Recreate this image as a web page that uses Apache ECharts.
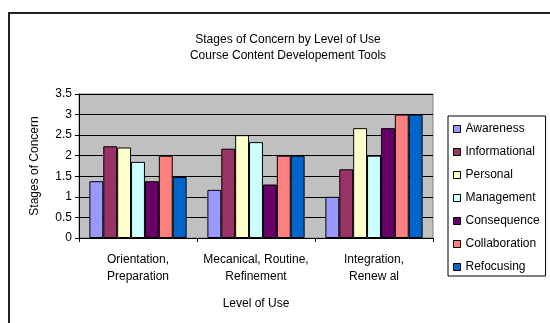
<!DOCTYPE html>
<html>
<head>
<meta charset="utf-8">
<script src="https://cdn.jsdelivr.net/npm/echarts@6/dist/echarts.min.js"></script>
<style>
html,body{margin:0;padding:0;background:#fff;}
#chart{width:550px;height:323px;}
</style>
</head>
<body>
<div id="chart"></div>
<script>
var categories = ['Orientation,\nPreparation', 'Mecanical, Routine,\nRefinement', 'Integration,\nRenew al'];
var seriesNames = ['Awareness', 'Informational', 'Personal', 'Management', 'Consequence', 'Collaboration', 'Refocusing'];
var awareness = [1.38, 1.17, 1.0];
var informational = [2.23, 2.17, 1.67];
var personal = [2.2, 2.5, 2.67];
var management = [1.85, 2.33, 2.0];
var consequence = [1.38, 1.3, 2.67];
var collaboration = [2.0, 2.0, 3.0];
var refocusing = [1.48, 2.0, 3.0];
var colors = ['#9999FF', '#993366', '#FFFFCC', '#CCFFFF', '#660066', '#FF8080', '#0066CC'];
var values = [awareness, informational, personal, management, consequence, collaboration, refocusing];

var font = '"Liberation Sans", Arial, sans-serif';
var chart = echarts.init(document.getElementById('chart'), null, {renderer: 'canvas'});
var series = seriesNames.map(function (n, i) {
  return {
    name: n,
    type: 'bar',
    data: values[i],
    barGap: '0%',
    barCategoryGap: '17.6%',
    itemStyle: {color: colors[i], borderColor: '#000', borderWidth: 1},
    emphasis: {disabled: true}
  };
});
chart.setOption({
  animation: false,
  backgroundColor: '#fff',
  color: colors,
  title: {
    text: 'Stages of Concern by Level of Use\nCourse Content Developement Tools',
    left: 283,
    top: 27,
    textAlign: 'center',
    textStyle: {fontFamily: font, fontSize: 12, fontWeight: 'normal', color: '#000', lineHeight: 16}
  },
  legend: {
    orient: 'vertical',
    left: 448,
    top: 116,
    padding: [6, 6, 2, 5],
    itemGap: 9,
    itemWidth: 7,
    itemHeight: 7,
    icon: 'rect',
    backgroundColor: '#fff',
    borderColor: '#000',
    borderWidth: 1,
    data: seriesNames,
    itemStyle: {borderColor: '#000', borderWidth: 1},
    textStyle: {fontFamily: font, fontSize: 12, color: '#000', lineHeight: 14}
  },
  grid: {
    left: 79, top: 94, width: 354, height: 144,
    show: true, backgroundColor: '#C0C0C0', borderColor: '#808080', borderWidth: 1
  },
  xAxis: {
    type: 'category',
    data: categories,
    name: 'Level of Use',
    nameLocation: 'middle',
    nameGap: 60,
    nameTextStyle: {fontFamily: font, fontSize: 12, color: '#000'},
    axisLine: {lineStyle: {color: '#000', width: 1}},
    axisTick: {show: true, length: 4, lineStyle: {color: '#000'}},
    axisLabel: {interval: 0, fontFamily: font, fontSize: 12, color: '#000', margin: 13, lineHeight: 17}
  },
  yAxis: {
    type: 'value',
    min: 0, max: 3.5, interval: 0.5,
    name: 'Stages of Concern',
    nameLocation: 'middle',
    nameGap: 38,
    nameRotate: 90,
    nameTextStyle: {fontFamily: font, fontSize: 12, color: '#000'},
    axisLine: {show: true, lineStyle: {color: '#000', width: 1}},
    axisTick: {show: true, length: 4, lineStyle: {color: '#000'}},
    axisLabel: {fontFamily: font, fontSize: 12, color: '#000', margin: 7},
    splitLine: {show: true, lineStyle: {color: '#000', width: 1}}
  },
  graphic: [{
    type: 'rect',
    shape: {x: 9, y: 13, width: 600, height: 400},
    style: {fill: null, stroke: '#222', lineWidth: 2},
    silent: true
  }],
  series: series
});
</script>
</body>
</html>
